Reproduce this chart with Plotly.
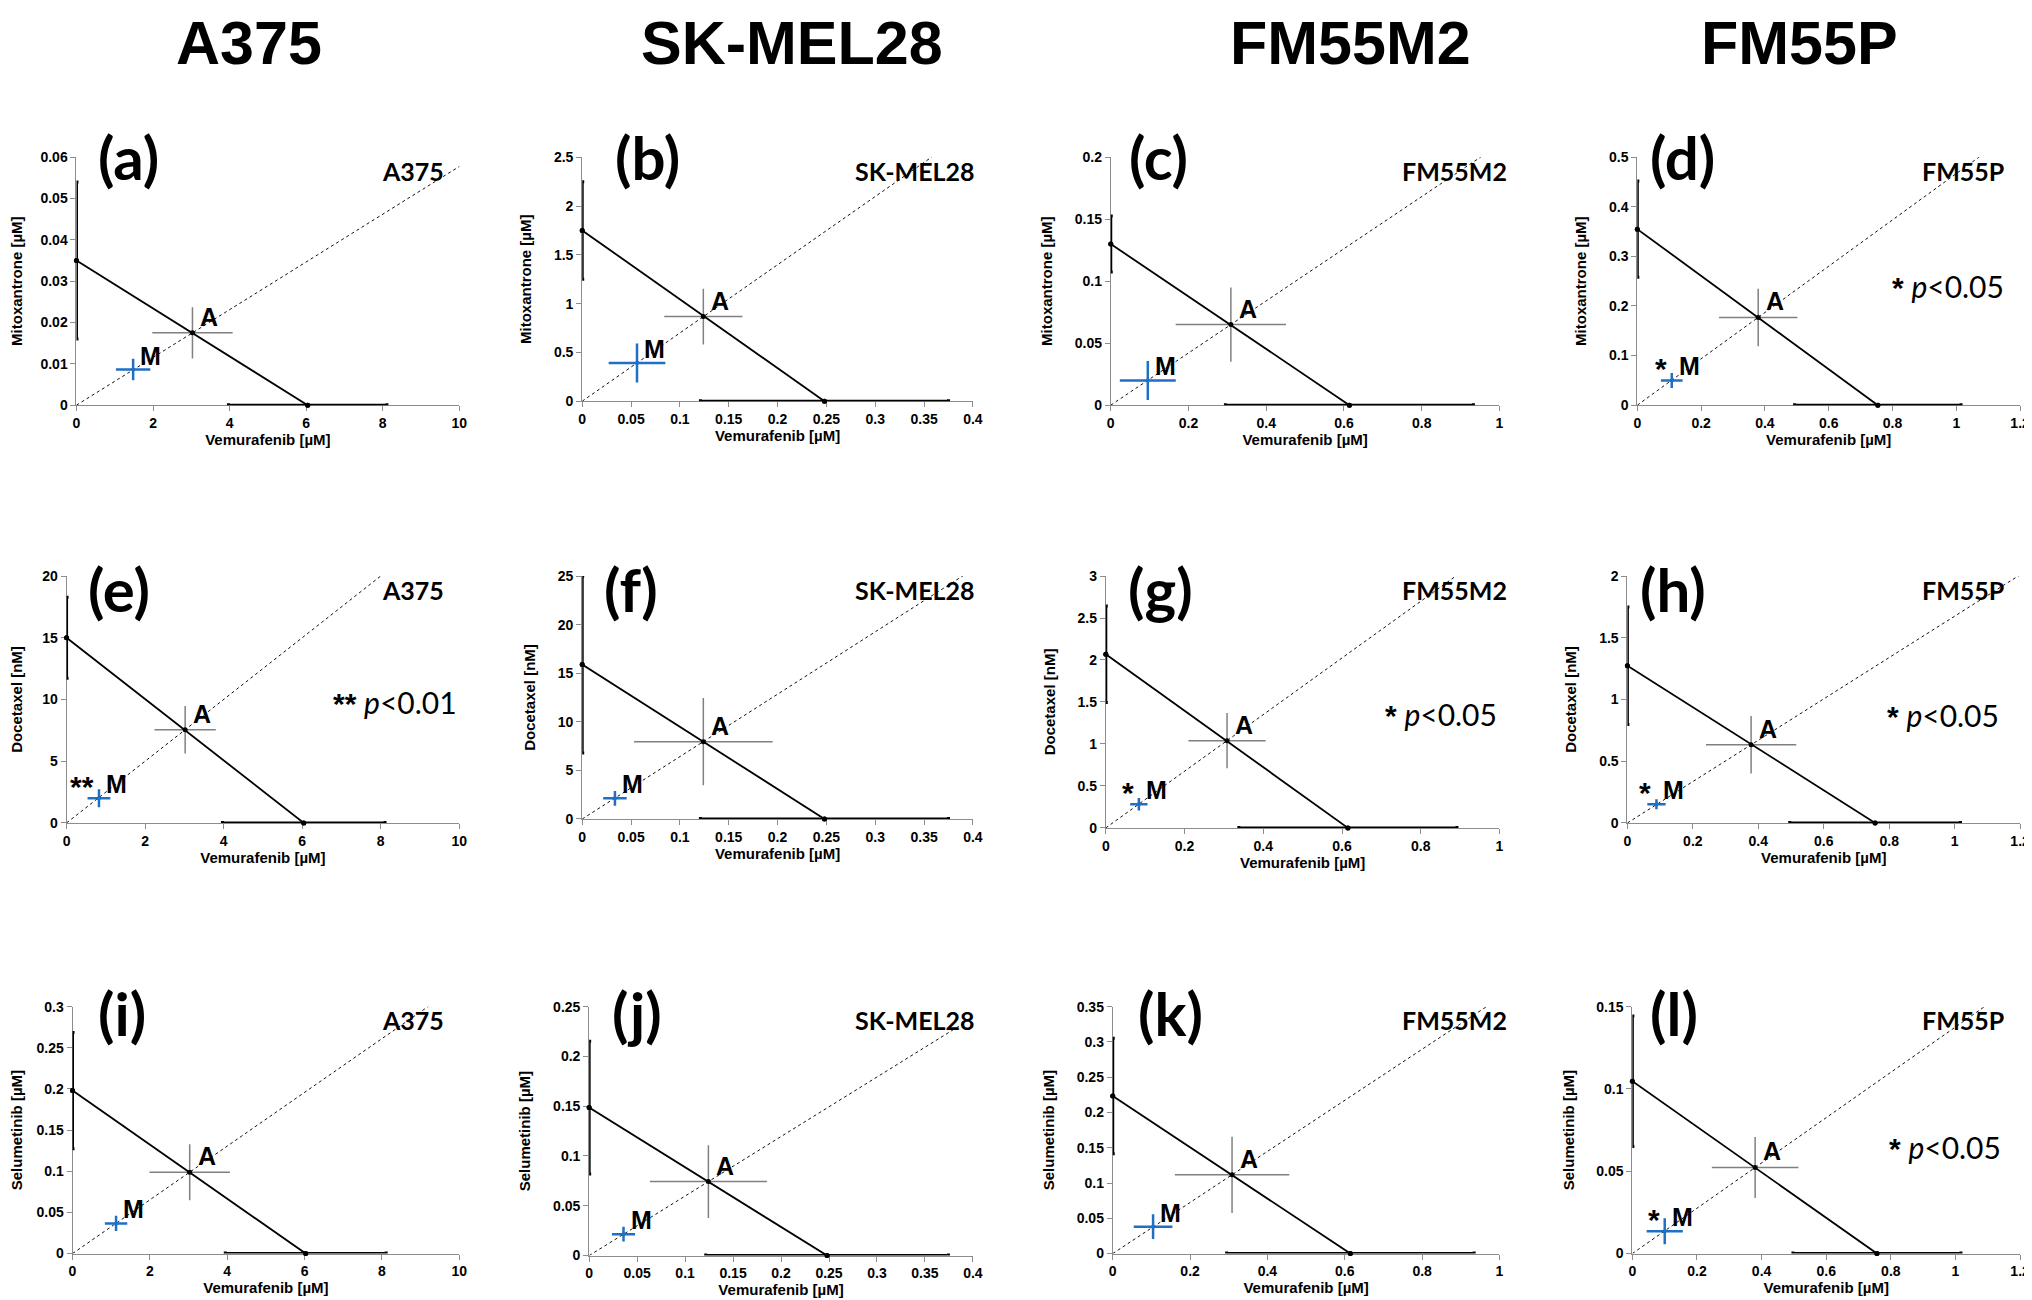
import plotly.graph_objects as go

# column / row labels
cells = ["A375", "SK-MEL28", "FM55M2", "FM55P"]
drug_titles = ["Mitoxantrone [µM]", "Docetaxel [nM]", "Selumetinib [µM]"]
x_title = "Vemurafenib [µM]"
panel_letters = ["(a)", "(b)", "(c)", "(d)", "(e)", "(f)", "(g)", "(h)", "(i)", "(j)", "(k)", "(l)"]

# axis scales per column (vemurafenib) and per panel (partner drug)
x_max = [10, 0.4, 1, 1.2]
x_dtick = [2, 0.05, 0.2, 0.2]
y_max = [0.06, 2.5, 0.2, 0.5, 20, 25, 3, 2, 0.3, 0.25, 0.35, 0.15]
y_dtick = [0.01, 0.5, 0.05, 0.1, 5, 5, 0.5, 0.5, 0.05, 0.05, 0.05, 0.05]

# single-drug IC50 (vemurafenib on x, partner on y), mean and error
ic50_x = [6.04, 0.248, 0.614, 0.754, 6.04, 0.248, 0.615, 0.757, 6.03, 0.248, 0.6145, 0.757]
ic50_x_err = [2.07, 0.127, 0.319, 0.261, 2.07, 0.127, 0.277, 0.261, 2.08, 0.1265, 0.32, 0.26]
ic50_y = [0.035, 1.75, 0.130, 0.355, 15.0, 15.9, 2.067, 1.274, 0.198, 0.1486, 0.2234, 0.1047]
ic50_y_err = [0.019, 0.5, 0.0225, 0.097, 3.28, 9.1, 0.575, 0.476, 0.0705, 0.0667, 0.082, 0.0396]

# theoretical additive point (A)
add_x = [3.03, 0.124, 0.309, 0.379, 3.02, 0.124, 0.308, 0.378, 3.03, 0.1243, 0.3085, 0.380]
add_x_err = [1.05, 0.04, 0.142, 0.123, 0.78, 0.071, 0.098, 0.138, 1.04, 0.061, 0.148, 0.134]
add_y = [0.0175, 0.867, 0.065, 0.177, 7.55, 7.96, 1.039, 0.633, 0.0989, 0.0743, 0.1117, 0.0523]
add_y_err = [0.0062, 0.285, 0.03, 0.058, 1.93, 4.5, 0.33, 0.233, 0.034, 0.0366, 0.054, 0.0185]

# experimental mixture point (M)
mix_x = [1.48, 0.0561, 0.0953, 0.108, 0.825, 0.0335, 0.084, 0.0889, 1.126, 0.0358, 0.1043, 0.1002]
mix_x_err = [0.45, 0.029, 0.072, 0.034, 0.29, 0.012, 0.022, 0.028, 0.29, 0.012, 0.05, 0.056]
mix_y = [0.0086, 0.391, 0.0199, 0.0498, 1.995, 2.13, 0.282, 0.1516, 0.0367, 0.0215, 0.0382, 0.0136]
mix_y_err = [0.0026, 0.2, 0.0157, 0.015, 0.73, 0.76, 0.075, 0.04, 0.0094, 0.0074, 0.0177, 0.0079]

# significance
stars = ["", "", "", "*", "**", "", "*", "*", "", "", "", "*"]
p_text = ["", "", "", "p<0.05", "p<0.01", "", "p<0.05", "p<0.05", "", "", "", "p<0.05"]

W, H = 2032, 1300

# plot-area pixel boxes (left, right, top, bottom) for each panel
boxes = [
    (62, 448, 143, 394), (572, 966, 143, 390), (1105, 1497, 143, 394), (1636, 2022, 143, 394),
    (52, 448, 567, 817), (572, 966, 567, 813), (1100, 1497, 567, 822), (1626, 2022, 567, 817),
    (58, 448, 1003, 1253), (579, 966, 1003, 1255), (1107, 1497, 1003, 1253), (1631, 2022, 1003, 1253),
]
letter_left = [82, 603, 1121, 1647, 72, 592, 1120, 1637, 82, 600, 1130, 1647]
letter_mid = [143, 580, 1009]
label_right = [435, 970, 1507, 2008]
p_pos = {3: (2008, 273), 4: (448, 695), 6: (1497, 707), 7: (2003, 708), 11: (2005, 1145)}
header_x = [236, 784, 1347, 1800]

BLUE = "#1f6fc5"
GREY = "#808080"
AXC = "#8c8c8c"
STAR = '<span style="font-family:Liberation Sans;font-weight:bold;font-size:30px">{}</span>'


def px(x):
    return x / W


def py(y):
    return 1 - y / H


fig = go.Figure()
annotations = []

for i in range(12):
    row, col = divmod(i, 4)
    xa = "x" if i == 0 else f"x{i + 1}"
    ya = "y" if i == 0 else f"y{i + 1}"

    # dotted ray from origin through A (clipped by the axes)
    k = 10
    fig.add_trace(go.Scatter(
        x=[0, add_x[i] * k], y=[0, add_y[i] * k], mode="lines",
        line=dict(color="#111111", width=1, dash="dot"),
        xaxis=xa, yaxis=ya, hoverinfo="skip",
    ))
    # A error cross
    fig.add_trace(go.Scatter(
        x=[add_x[i]], y=[add_y[i]], mode="markers",
        marker=dict(color="black", size=5),
        error_x=dict(type="data", array=[add_x_err[i]], color=GREY, thickness=1.5, width=0),
        error_y=dict(type="data", array=[add_y_err[i]], color=GREY, thickness=1.5, width=0),
        xaxis=xa, yaxis=ya,
    ))
    # isobole
    fig.add_trace(go.Scatter(
        x=[0, ic50_x[i]], y=[ic50_y[i], 0], mode="lines+markers",
        line=dict(color="black", width=1.8), marker=dict(color="black", size=5),
        xaxis=xa, yaxis=ya, cliponaxis=False,
    ))
    # IC50 error bars along the axes
    fig.add_trace(go.Scatter(
        x=[0], y=[ic50_y[i]], mode="markers", marker=dict(color="black", size=5),
        error_y=dict(type="data", array=[ic50_y_err[i]], color="black", thickness=3, width=2),
        xaxis=xa, yaxis=ya, cliponaxis=False,
    ))
    fig.add_trace(go.Scatter(
        x=[ic50_x[i]], y=[0], mode="markers", marker=dict(color="black", size=5),
        error_x=dict(type="data", array=[ic50_x_err[i]], color="black", thickness=3, width=2),
        xaxis=xa, yaxis=ya, cliponaxis=False,
    ))
    # M error cross
    fig.add_trace(go.Scatter(
        x=[mix_x[i]], y=[mix_y[i]], mode="markers",
        marker=dict(color=BLUE, size=4),
        error_x=dict(type="data", array=[mix_x_err[i]], color=BLUE, thickness=2.5, width=0),
        error_y=dict(type="data", array=[mix_y_err[i]], color=BLUE, thickness=2.5, width=0),
        xaxis=xa, yaxis=ya,
    ))

    l, r, t, b = boxes[i]
    axis_common = dict(
        showgrid=False, zeroline=False, showline=True, linecolor=AXC, linewidth=1,
        ticks="outside", ticklen=5, tickcolor=AXC, layer="below traces",
        tickfont=dict(family="Liberation Sans", size=14, color="black", weight="bold"),
    )
    fig.layout[f"xaxis{i + 1}"] = dict(
        axis_common, domain=[px(l), px(r)], anchor=ya, range=[0, x_max[col]],
        tick0=0, dtick=x_dtick[col],
        title=dict(text=x_title, standoff=0,
                   font=dict(family="Liberation Sans", size=15, color="black", weight="bold")),
    )
    fig.layout[f"yaxis{i + 1}"] = dict(
        axis_common, domain=[py(b), py(t)], anchor=xa, range=[0, y_max[i]],
        tick0=0, dtick=y_dtick[i],
        title=dict(text=drug_titles[row], standoff=18,
                   font=dict(family="Liberation Sans", size=15, color="black", weight="bold")),
    )

    # A / M labels
    annotations.append(dict(
        x=add_x[i], y=add_y[i], xref=xa, yref=ya, text="<b>A</b>", showarrow=False,
        xanchor="left", yanchor="middle", xshift=6, yshift=16,
        font=dict(family="Liberation Sans", size=25, color="black"),
    ))
    annotations.append(dict(
        x=mix_x[i], y=mix_y[i], xref=xa, yref=ya, text="<b>M</b>", showarrow=False,
        xanchor="left", yanchor="middle", xshift=5, yshift=14,
        font=dict(family="Liberation Sans", size=25, color="black"),
    ))
    if stars[i]:
        annotations.append(dict(
            x=mix_x[i], y=mix_y[i], xref=xa, yref=ya, text=STAR.format(stars[i]),
            showarrow=False, xanchor="right", yanchor="middle", xshift=-3, yshift=12,
            font=dict(family="Liberation Sans", size=30, color="black"),
        ))
    if p_text[i]:
        pxr, pym = p_pos[i]
        annotations.append(dict(
            x=px(pxr), y=py(pym), xref="paper", yref="paper",
            text=STAR.format(stars[i]) + " <i>" + p_text[i][0] + "</i>" + p_text[i][1:],
            showarrow=False, xanchor="right", yanchor="middle",
            font=dict(family="Lato", size=30, color="black"),
        ))
    # panel letter
    annotations.append(dict(
        x=px(letter_left[i]), y=py(letter_mid[row]), xref="paper", yref="paper",
        text="<b>" + panel_letters[i] + "</b>", showarrow=False,
        xanchor="left", yanchor="middle",
        font=dict(family="Lato", size=60, color="black"),
    ))
    # cell line label inside the plot
    annotations.append(dict(
        x=px(label_right[col]), y=py(t + 14), xref="paper", yref="paper",
        text="<b>" + cells[col] + "</b>", showarrow=False,
        xanchor="right", yanchor="middle",
        font=dict(family="Lato", size=25, color="black"),
    ))

# column headers
for c, name in enumerate(cells):
    annotations.append(dict(
        x=px(header_x[c]), y=py(27), xref="paper", yref="paper",
        text="<b>" + name + "</b>", showarrow=False,
        xanchor="center", yanchor="middle",
        font=dict(family="Liberation Sans", size=61, color="black"),
    ))

fig.update_layout(
    width=W, height=H,
    margin=dict(l=0, r=0, t=0, b=0),
    paper_bgcolor="white", plot_bgcolor="white",
    showlegend=False,
    annotations=annotations,
)

fig.write_html("out.html")
